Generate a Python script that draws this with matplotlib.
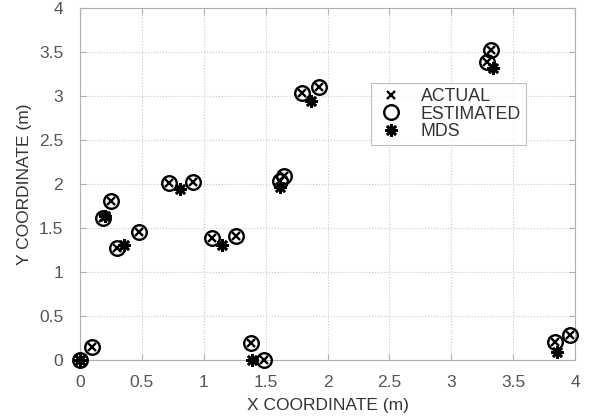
import matplotlib
matplotlib.use("Agg")
import matplotlib.pyplot as plt

plt.rcParams['font.family'] = ['Liberation Sans', 'DejaVu Sans']

# Actual node positions (m)
actual_x = [0.00, 0.10, 0.19, 0.25, 0.30, 0.48, 0.72, 0.91, 1.07, 1.26,
            1.38, 1.49, 1.62, 1.65, 1.79, 1.93, 3.29, 3.32, 3.84, 3.96]
actual_y = [0.00, 0.15, 1.61, 1.81, 1.27, 1.45, 2.01, 2.02, 1.39, 1.41,
            0.19, 0.00, 2.03, 2.09, 3.03, 3.10, 3.39, 3.52, 0.20, 0.28]
# Estimated positions (coincide with actual)
est_x = [0.00, 0.10, 0.19, 0.25, 0.30, 0.48, 0.72, 0.91, 1.07, 1.26,
         1.38, 1.49, 1.62, 1.65, 1.79, 1.93, 3.29, 3.32, 3.84, 3.96]
est_y = [0.00, 0.15, 1.61, 1.81, 1.27, 1.45, 2.01, 2.02, 1.39, 1.41,
         0.19, 0.00, 2.03, 2.09, 3.03, 3.10, 3.39, 3.52, 0.20, 0.28]
# MDS estimates
mds_x = [0.00, 0.20, 0.36, 0.81, 1.15, 1.39, 1.62, 1.87, 3.34, 3.85]
mds_y = [0.00, 1.64, 1.31, 1.94, 1.30, 0.00, 1.97, 2.94, 3.32, 0.09]

x_ticks = [0, 0.5, 1, 1.5, 2, 2.5, 3, 3.5, 4]
y_ticks = [0, 0.5, 1, 1.5, 2, 2.5, 3, 3.5, 4]

fig = plt.figure(figsize=(5.96, 4.17), dpi=100)
ax = fig.add_axes([0.134, 0.137, 0.831, 0.844])

ax.plot(actual_x, actual_y, linestyle='none', marker='x', markersize=6,
        markeredgewidth=1.7, color='black', label='ACTUAL', zorder=3,
        clip_on=False)
ax.plot(est_x, est_y, linestyle='none', marker='o', markersize=10.5,
        markeredgewidth=1.7, markerfacecolor='none', color='black',
        label='ESTIMATED', zorder=3, clip_on=False)
ax.plot(mds_x, mds_y, linestyle='none', marker=(8, 2, 0), markersize=9,
        markeredgewidth=1.9, color='black', label='MDS', zorder=4,
        clip_on=False)

ax.set_xlim(0, 4)
ax.set_ylim(0, 4)
ax.set_xticks(x_ticks)
ax.set_yticks(y_ticks)
ax.set_xticklabels([f'{t:g}' for t in x_ticks])
ax.set_yticklabels([f'{t:g}' for t in y_ticks])

ax.grid(True, linestyle=':', color='#c8c8c8', linewidth=0.8)
ax.set_axisbelow(True)
for s in ax.spines.values():
    s.set_color('#b0b0b0')
    s.set_linewidth(0.8)
ax.tick_params(direction='in', length=4, color='#b0b0b0', labelsize=12.5,
               labelcolor='#555555', top=True, right=True)
ax.tick_params(axis='x', pad=11)
ax.tick_params(axis='y', pad=12)

ax.set_xlabel('X COORDINATE (m)', fontsize=12.5, color='#333333', labelpad=6)
ax.set_ylabel('Y COORDINATE (m)', fontsize=12.5, color='#333333', labelpad=5)

leg = ax.legend(loc='upper left', bbox_to_anchor=(0.588, 0.787), fontsize=12.8,
                frameon=True, fancybox=False, edgecolor='#b0b0b0',
                borderpad=0.3, handletextpad=0.9, labelspacing=0.02,
                handlelength=1.6, borderaxespad=0)
leg.get_frame().set_linewidth(0.8)
for t in leg.get_texts():
    t.set_color('#333333')

fig.savefig('out.png', dpi=100)
